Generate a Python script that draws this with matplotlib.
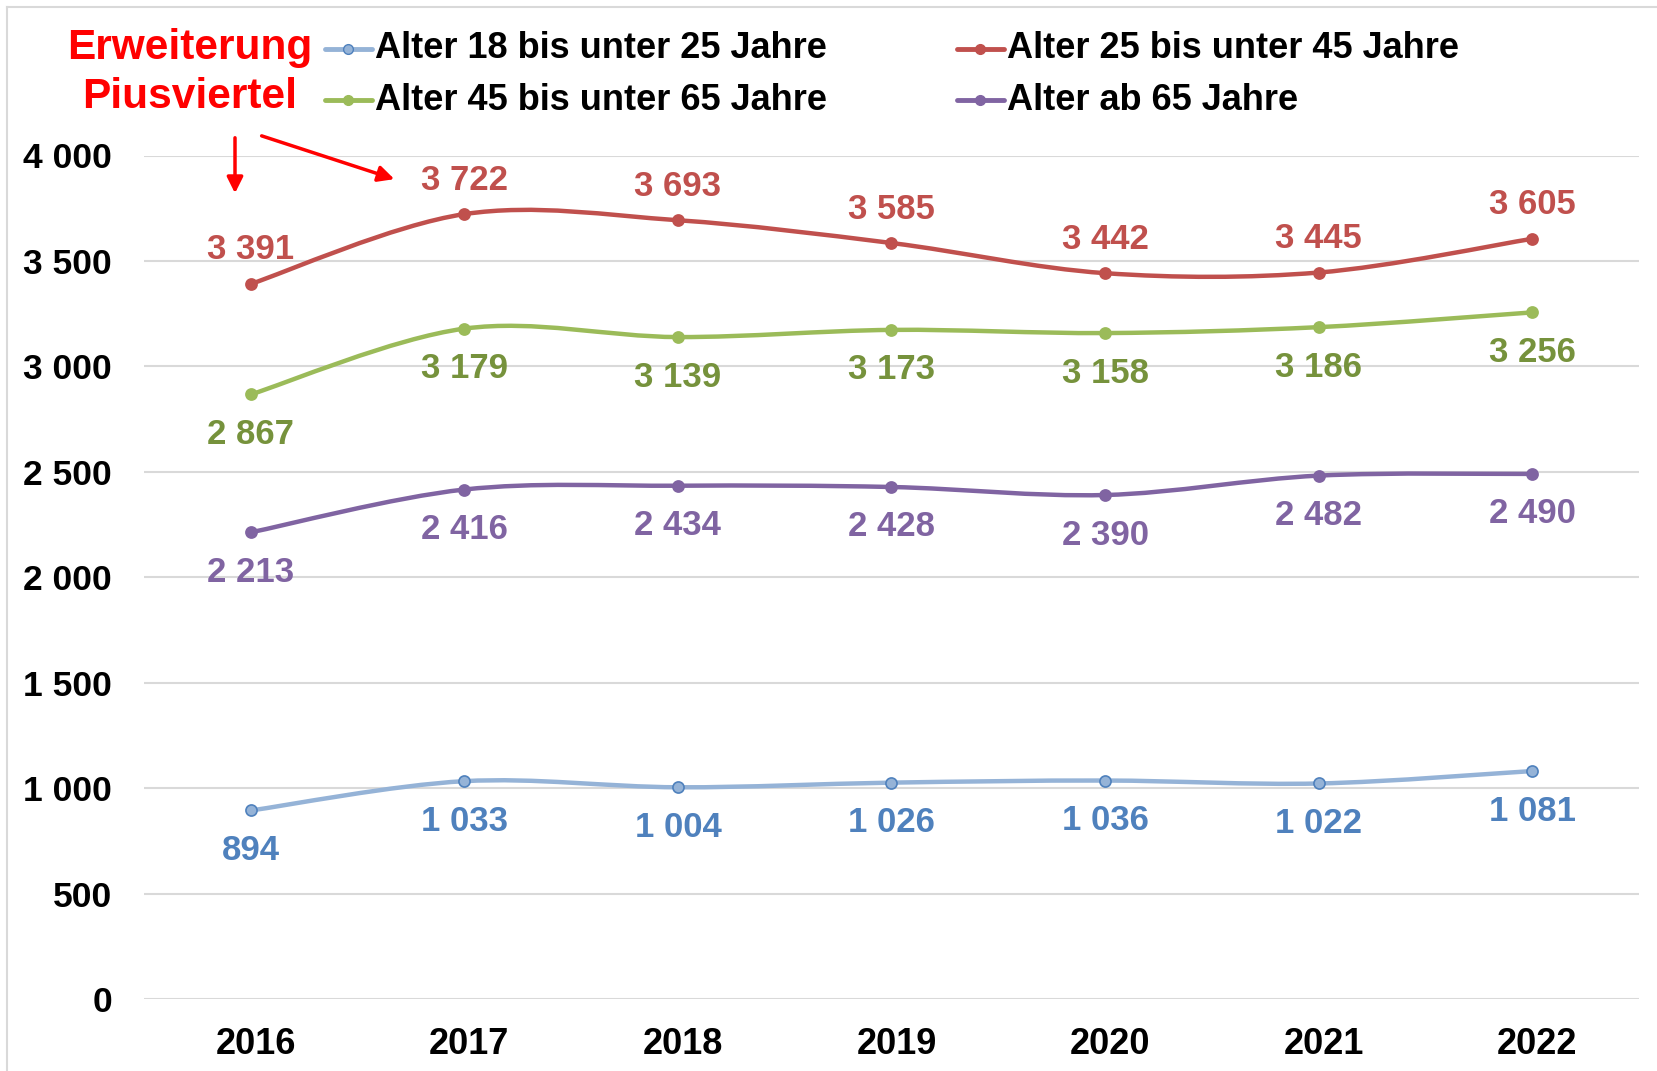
import matplotlib
matplotlib.use("Agg")
import matplotlib.pyplot as plt
from matplotlib.lines import Line2D
from matplotlib.patches import FancyArrowPatch
from matplotlib.path import Path
from matplotlib.patches import PathPatch
from matplotlib.transforms import ScaledTranslation
import numpy as np

plt.rcParams['font.family'] = ['Liberation Sans', 'DejaVu Sans']
plt.rcParams['font.weight'] = 'bold'

years = ["2016", "2017", "2018", "2019", "2020", "2021", "2022"]
age_18_25 = [894, 1033, 1004, 1026, 1036, 1022, 1081]
age_25_45 = [3391, 3722, 3693, 3585, 3442, 3445, 3605]
age_45_65 = [2867, 3179, 3139, 3173, 3158, 3186, 3256]
age_65 = [2213, 2416, 2434, 2428, 2390, 2482, 2490]
series_labels = ["Alter 18 bis unter 25 Jahre", "Alter 25 bis unter 45 Jahre",
                 "Alter 45 bis unter 65 Jahre", "Alter ab 65 Jahre"]
y_ticks = [0, 500, 1000, 1500, 2000, 2500, 3000, 3500, 4000]

W, H = 1658, 1071
fig = plt.figure(figsize=(W / 100, H / 100), dpi=100)

def fx(px):
    return px / W

def fy(py):
    return 1 - py / H

ax = fig.add_axes([fx(144), fy(999), fx(1639) - fx(144), fy(155.5) - fy(999)])

def fmt(v):
    return f"{v:,}".replace(",", " ")

def smooth_path(xs, ys):
    n = len(xs)
    verts = [(xs[0], ys[0])]
    codes = [Path.MOVETO]
    for i in range(n - 1):
        p0 = np.array([xs[max(i - 1, 0)], ys[max(i - 1, 0)]], float)
        p1 = np.array([xs[i], ys[i]], float)
        p2 = np.array([xs[i + 1], ys[i + 1]], float)
        p3 = np.array([xs[min(i + 2, n - 1)], ys[min(i + 2, n - 1)]], float)
        c1 = p1 + (p2 - p0) / 6
        c2 = p2 - (p3 - p1) / 6
        verts += [tuple(c1), tuple(c2), tuple(p2)]
        codes += [Path.CURVE4] * 3
    return Path(verts, codes)

styles = [
    (age_18_25, "#95B3D7", "#4F81BD", "#4F81BD", -1),
    (age_25_45, "#C0504D", "#C0504D", "#C0504D", 1),
    (age_45_65, "#9BBB59", "#9BBB59", "#76923C", -1),
    (age_65, "#8064A2", "#8064A2", "#8064A2", -1),
]

x = np.arange(len(years))
for vals, lc, mec, tc, side in styles:
    path = smooth_path(x, vals)
    ax.add_patch(PathPatch(path, facecolor="none", edgecolor=lc, lw=3.2,
                           capstyle="round", zorder=3))
    ax.plot(x, vals, linestyle="none", marker="o", markersize=8,
            markerfacecolor=lc, markeredgecolor=mec, markeredgewidth=1.2, zorder=4)
    off = 34 if side > 0 else -40
    for xi, v in zip(x, vals):
        ax.annotate(fmt(v), (xi, v), xytext=(0, off), textcoords="offset pixels",
                    ha="center", va="center", fontsize=25, color=tc, fontweight="bold",
                    zorder=5)

ax.set_xlim(-0.5, len(years) - 0.5)
ax.set_ylim(0, 4000)
ax.set_yticks(y_ticks)
ax.set_yticklabels([fmt(t) for t in y_ticks], fontsize=25.5, fontweight="bold")
ax.set_xticks(x)
ax.set_xticklabels(years, fontsize=26, fontweight="bold")
ax.tick_params(axis="both", length=0)
ax.tick_params(axis="y", pad=23)
ax.tick_params(axis="x", pad=20)
shift = ScaledTranslation(5 / 100, 0, fig.dpi_scale_trans)
for lbl in ax.get_xticklabels():
    lbl.set_transform(lbl.get_transform() + shift)
ax.grid(axis="y", color="#D9D9D9", lw=1.5)
ax.set_axisbelow(True)
for s in ax.spines.values():
    s.set_visible(False)

# outer chart border
fig.add_artist(Line2D([fx(7), fx(7)], [fy(7), fy(1071)], color="#D9D9D9", lw=1.5))
fig.add_artist(Line2D([fx(7), fx(1658)], [fy(7), fy(7)], color="#D9D9D9", lw=1.5))

# legend
leg_pos = [(325, 48.5), (957, 48.5), (325, 100), (957, 100)]
for (vals, lc, mec, tc, side), lab, (px, py) in zip(styles, series_labels, leg_pos):
    fig.add_artist(Line2D([fx(px), fx(px + 47)], [fy(py), fy(py)], color=lc, lw=3.5,
                          solid_capstyle="round"))
    fig.add_artist(Line2D([fx(px + 23.5)], [fy(py)], marker="o", markersize=7,
                          markerfacecolor=lc, markeredgecolor=mec, linestyle="none"))
    fig.text(fx(px + 50), fy(py), lab, fontsize=26, fontweight="bold", color="black",
             ha="left", va="center")

# annotation
fig.text(fx(190), fy(47.5), "Erweiterung", fontsize=30.5, fontweight="bold", color="#FF0000",
         ha="center", va="center")
fig.text(fx(190), fy(97.5), "Piusviertel", fontsize=30.5, fontweight="bold", color="#FF0000",
         ha="center", va="center")
for (x0, y0), (x1, y1) in [((235, 135), (235, 196)), ((259, 135), (397, 180))]:
    fig.add_artist(FancyArrowPatch((fx(x0), fy(y0)), (fx(x1), fy(y1)),
                                   transform=fig.transFigure, arrowstyle="-|>",
                                   mutation_scale=24, color="#FF0000", lw=2.5))

fig.savefig("out.png", dpi=100)
